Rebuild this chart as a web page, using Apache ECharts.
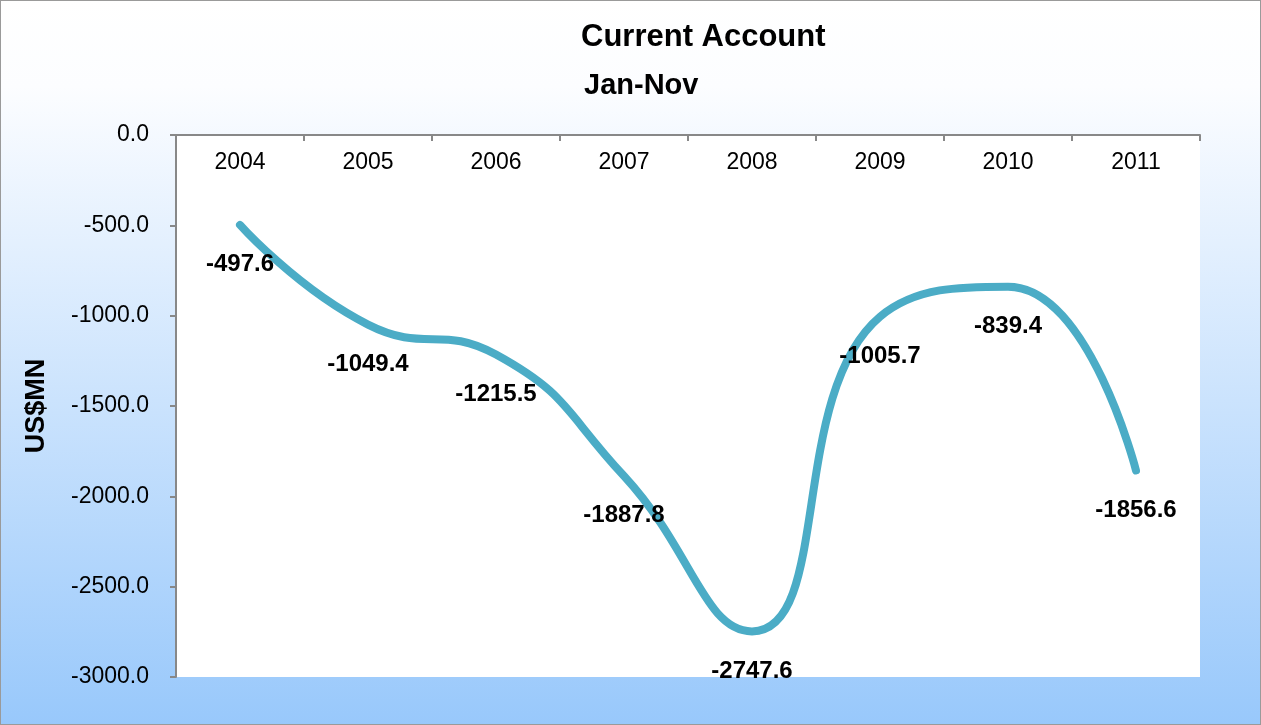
<!DOCTYPE html>
<html><head><meta charset="utf-8">
<script src="https://cdn.jsdelivr.net/npm/echarts@6/dist/echarts.min.js"></script>
<style>html,body{margin:0;padding:0;}#c{width:1261px;height:725px;}</style>
</head><body><div id="c"></div>
<script>
const categories = ['2004','2005','2006','2007','2008','2009','2010','2011'];
const values = [-497.6,-1049.4,-1215.5,-1887.8,-2747.6,-1005.7,-839.4,-1856.6];
const chart = echarts.init(document.getElementById('c'));
const F = 'Liberation Sans, Arial, sans-serif';
chart.setOption({
  animation:false,
  graphic:[
    {type:'rect',z:-10,silent:true,shape:{x:0,y:0,width:1261,height:725},
     style:{fill:new echarts.graphic.LinearGradient(0,0,0,1,[{offset:0,color:'#ffffff'},{offset:0.12,color:'#fcfdff'},{offset:1,color:'#98c8fb'}]),stroke:'#9a9a9a',lineWidth:2}}
  ],
  title:[
    {text:'Current Account',left:576,top:17,textStyle:{fontFamily:F,fontWeight:'bold',fontSize:31,color:'#000'}},
    {text:'Jan-Nov',left:579,top:66,textStyle:{fontFamily:F,fontWeight:'bold',fontSize:29,color:'#000'}}
  ],
  grid:{left:176,right:61,top:135,bottom:48,show:true,backgroundColor:'#ffffff',borderWidth:0},
  xAxis:{type:'category',data:categories,position:'top',boundaryGap:true,
    axisLine:{lineStyle:{color:'#888',width:2}},
    axisTick:{show:true,inside:true,length:6,lineStyle:{color:'#888',width:2},alignWithLabel:false},
    axisLabel:{inside:true,margin:16,fontFamily:F,fontSize:23,color:'#000'}},
  yAxis:{type:'value',min:-3000,max:0,interval:500,
    name:'US$MN',nameLocation:'middle',nameGap:126,nameRotate:90,
    nameTextStyle:{fontFamily:F,fontWeight:'bold',fontSize:27,color:'#000'},
    axisLine:{show:true,lineStyle:{color:'#888',width:2}},
    axisTick:{show:true,length:6,lineStyle:{color:'#888',width:2}},
    splitLine:{show:false},
    axisLabel:{margin:27,fontFamily:F,fontSize:23,color:'#000',formatter:v=>v.toFixed(1)}},
  series:[{type:'line',data:values,smooth:0.5,symbol:'circle',symbolSize:1,showSymbol:true,
    itemStyle:{color:'rgba(0,0,0,0)'},
    lineStyle:{color:'#4BACC6',width:8,cap:'round'},
    label:{show:true,position:'bottom',distance:27,fontFamily:F,fontWeight:'bold',fontSize:24,color:'#000',formatter:p=>p.value.toFixed(1)}}]
});
</script></body></html>
